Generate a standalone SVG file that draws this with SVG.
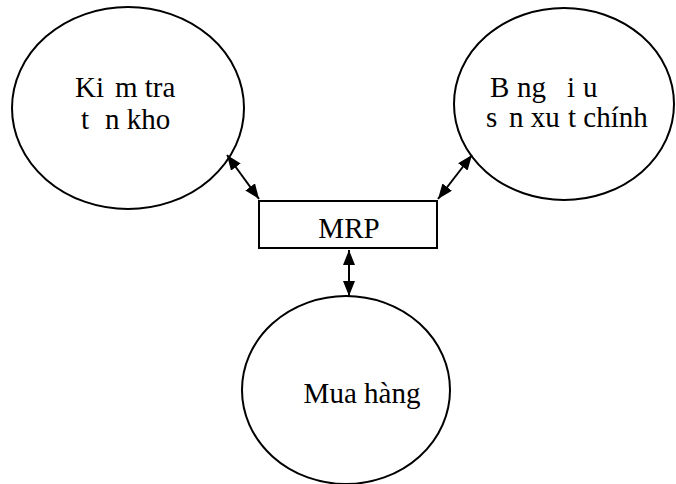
<svg xmlns="http://www.w3.org/2000/svg" width="676" height="484" viewBox="0 0 676 484">
  <style>
    .shape { fill: #ffffff; stroke: #000000; stroke-width: 2; }
    .label { font-family: "Liberation Serif", "Times New Roman", serif; font-size: 29px; fill: #000000; }
    .link { stroke: #000000; stroke-width: 2; fill: none; marker-start: url(#head); marker-end: url(#head); }
  </style>
  <defs>
    <marker id="head" markerUnits="userSpaceOnUse" markerWidth="15" markerHeight="12" refX="15" refY="6" orient="auto-start-reverse">
      <path d="M0,0 L15,6 L0,12 Z" fill="#000000"/>
    </marker>
  </defs>

  <g id="inventory">
    <ellipse class="shape" cx="128" cy="108" rx="116" ry="101"/>
    <text class="label" y="97"><tspan x="75">Ki</tspan><tspan x="115">m tra</tspan></text>
    <text class="label" y="129"><tspan x="81">t</tspan><tspan x="105">n kho</tspan></text>
  </g>

  <g id="schedule">
    <ellipse class="shape" cx="564" cy="104" rx="110" ry="96"/>
    <text class="label" y="97"><tspan x="490">B</tspan><tspan x="517">ng</tspan><tspan x="567">i</tspan><tspan x="583">u</tspan></text>
    <text class="label" y="127"><tspan x="486">s</tspan><tspan x="509">n xu</tspan><tspan x="568">t chính</tspan></text>
  </g>

  <g id="mrp">
    <rect class="shape" x="259" y="201" width="178" height="47"/>
    <text class="label" x="349" y="238" text-anchor="middle">MRP</text>
  </g>

  <g id="purchasing">
    <ellipse class="shape" cx="346" cy="390" rx="104" ry="94"/>
    <text class="label" x="362" y="403" text-anchor="middle">Mua hàng</text>
  </g>

  <g id="connectors">
    <line class="link" x1="227" y1="155" x2="259" y2="199"/>
    <line class="link" x1="472" y1="155" x2="438" y2="199"/>
    <line class="link" x1="349" y1="250" x2="349" y2="296"/>
  </g>
</svg>
